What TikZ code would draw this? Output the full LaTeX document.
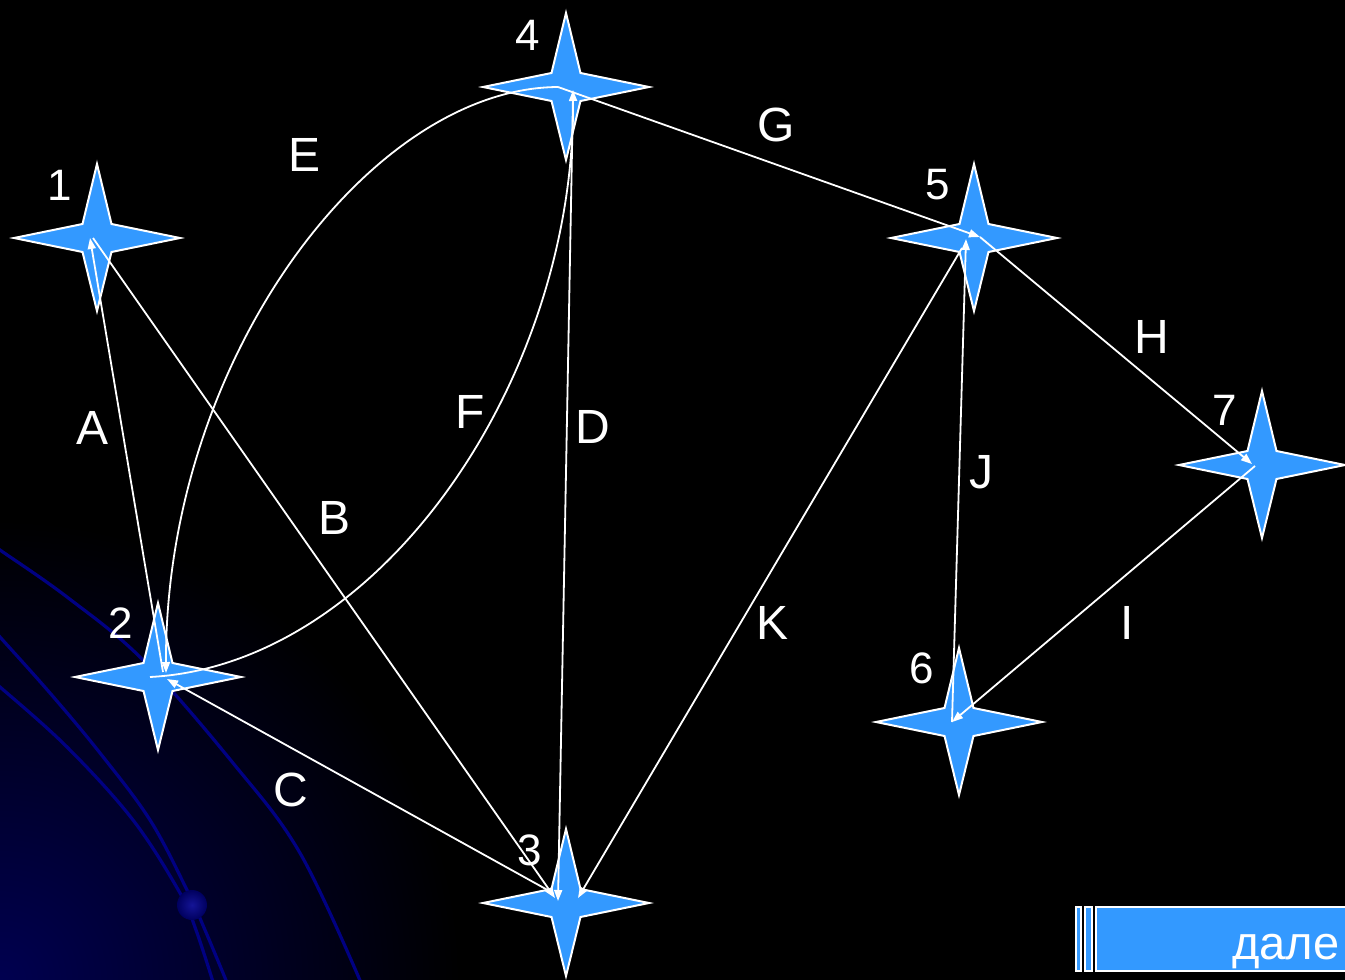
\documentclass[tikz,border=0pt]{standalone}
\usepackage{fontspec}
\setmainfont{Liberation Sans}
\usetikzlibrary{arrows.meta,calc}
\definecolor{starblue}{HTML}{3399FF}
\definecolor{navyline}{RGB}{0,0,130}
\definecolor{glow}{RGB}{0,0,80}
\definecolor{dotin}{RGB}{20,20,150}
\definecolor{dotout}{RGB}{0,0,95}
\tikzset{
  starshape/.style={fill=starblue, draw=white, line width=2pt, line join=miter},
  edge/.style={draw=white, line width=1.8pt, -{Triangle[length=11pt,width=8pt]}},
  numlabel/.style={text=white, inner sep=0pt, font=\fontsize{44}{50}\selectfont},
  edgelabel/.style={text=white, inner sep=0pt, font=\fontsize{48}{54}\selectfont},
  bgcurve/.style={draw=navyline, line width=3.2pt},
  btnbox/.style={fill=starblue, draw=white, line width=1.5pt},
}
\newcommand\drawstar[1]{\path[starshape] (#1) +(-83,0) -- +(-14.5,-14) -- +(0,-74) -- +(14.5,-14) -- +(83,0) -- +(14.5,14) -- +(0,73) -- +(-14.5,14) -- cycle;}
\begin{document}
\begin{tikzpicture}[x=1pt,y=-1pt]
\useasboundingbox (0,0) rectangle (1345,980);
\begin{scope}
\clip (0,0) rectangle (1345,980);
\fill[black] (0,0) rectangle (1345,980);
\shade[inner color=glow, outer color=black] (0,980) circle (460pt);
% background curves
\draw[bgcurve] plot[smooth, tension=0.6] coordinates {(-5,546) (0,550) (67,597) (143,660) (233,763) (300,853) (362,985)};
\draw[bgcurve] plot[smooth, tension=0.6] coordinates {(-5,631) (0,637) (50,693) (100,753) (150,820) (187,890) (205,930) (228,985)};
\draw[bgcurve] plot[smooth, tension=0.6] coordinates {(-5,684) (0,687) (67,747) (133,820) (180,893) (196,930) (214,985)};
\shade[inner color=dotin, outer color=dotout] (192,905) circle (15pt);
% star centres
\coordinate (s1) at (97,238);
\coordinate (s2) at (158,677);
\coordinate (s3) at (566,903);
\coordinate (s4) at (566,87);
\coordinate (s5) at (974,238);
\coordinate (s6) at (959,722);
\coordinate (s7) at (1262,465);
\drawstar{s1}\drawstar{s2}\drawstar{s3}\drawstar{s4}\drawstar{s5}\drawstar{s6}\drawstar{s7}
% edges
\draw[edge] ([shift={(5,-5)}]s2) -- ([shift={(-7,0)}]s1);          % A
\draw[edge] ([shift={(-4,0)}]s1) -- ([shift={(-11,-5)}]s3);        % B
\draw[edge] ([shift={(-13,-10)}]s3) -- ([shift={(9,2)}]s2);        % C
\draw[edge] ([shift={(7,10)}]s4) -- ([shift={(-8,-2)}]s3);         % D
\draw[edge] ([shift={(-8,0)}]s4) .. controls (370,88) and (165,360) .. ([shift={(8,-4)}]s2); % E
\draw[edge] ([shift={(-8,0)}]s2) .. controls (380,665) and (575,380) .. ([shift={(7,3)}]s4); % F
\draw[edge] ([shift={(-8,0)}]s4) -- ([shift={(6,-1)}]s5);          % G
\draw[edge] ([shift={(6,-1)}]s5) -- ([shift={(-10,-1)}]s7);        % H
\draw[edge] ([shift={(-7,1)}]s7) -- ([shift={(-7,0)}]s6);          % I
\draw[edge] ([shift={(-7,0)}]s6) -- ([shift={(-8,1)}]s5);          % J
\draw[edge] ([shift={(-12,10)}]s5) -- ([shift={(12,-5)}]s3);       % K
% number labels
\node[numlabel] (n1) at (60,185) {1};
\node[numlabel] (n2) at (121,623) {2};
\node[numlabel] (n3) at (530,850) {3};
\node[numlabel] (n4) at (528,35) {4};
\node[numlabel] (n5) at (938,185) {5};
\node[numlabel] (n6) at (922,668) {6};
\node[numlabel] (n7) at (1225,410) {7};
% edge labels
\node[edgelabel] (lA) at (93,428) {A};
\node[edgelabel] (lB) at (335,518) {B};
\node[edgelabel] (lC) at (291,790) {C};
\node[edgelabel] (lD) at (593,427) {D};
\node[edgelabel] (lE) at (305,155) {E};
\node[edgelabel] (lF) at (470,412) {F};
\node[edgelabel] (lG) at (776,125) {G};
\node[edgelabel] (lH) at (1152,337) {H};
\node[edgelabel] (lI) at (1127,623) {I};
\node[edgelabel] (lJ) at (981,472) {J};
\node[edgelabel] (lK) at (773,623) {K};
% button
\draw[btnbox] (1076,907) rectangle (1081,971);
\draw[btnbox] (1085,907) rectangle (1092,971);
\draw[btnbox] (1096,907) rectangle (1360,971);
\node[anchor=base west, text=white, inner sep=0pt, font=\fontsize{47}{52}\selectfont] (next) at (1232,959) {дале};
\end{scope}
\end{tikzpicture}
\end{document}
